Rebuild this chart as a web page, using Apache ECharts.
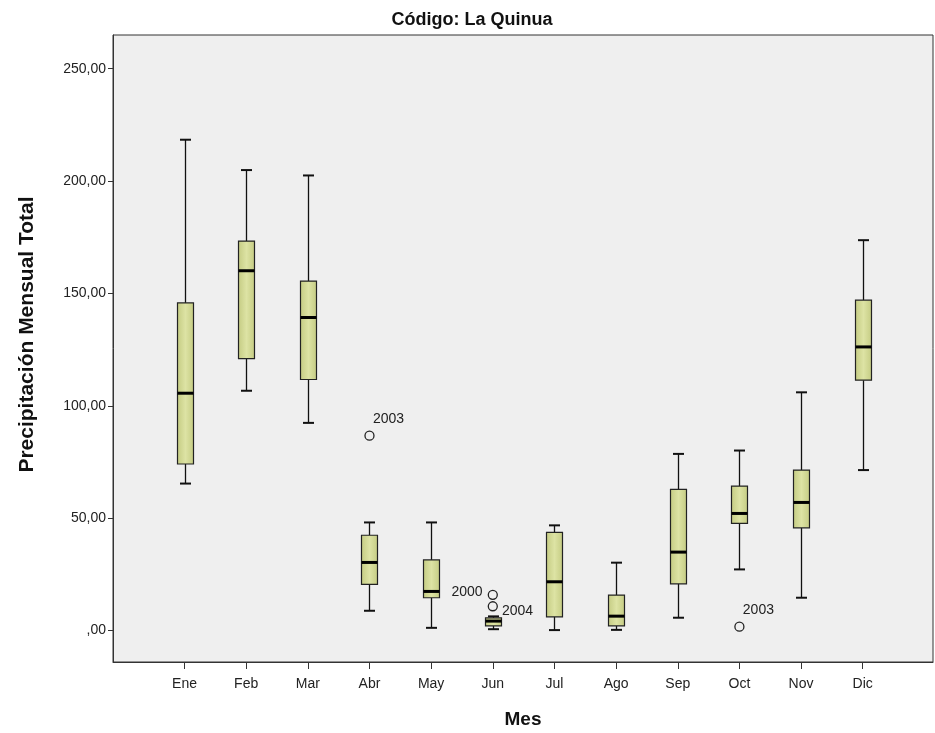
<!DOCTYPE html>
<html>
<head>
<meta charset="utf-8">
<script src="https://cdn.jsdelivr.net/npm/echarts@6/dist/echarts.min.js"></script>
<style>html,body{margin:0;padding:0;background:#fff;}#c{width:935px;height:733px;}</style>
</head>
<body>
<div id="c"></div>
<script>
var months = ['Ene','Feb','Mar','Abr','May','Jun','Jul','Ago','Sep','Oct','Nov','Dic'];
var mins    = [65.4, 106.7, 92.4,  8.8,  1.2, 0.6,  0.2, 0.3,  5.7, 27.2, 14.6,  71.4];
var q1s     = [74.1, 121.0, 111.7, 20.5, 14.6, 2.1,  6.1, 2.1, 20.8, 47.7, 45.7, 111.4];
var medians = [105.6, 160.1, 139.3, 30.3, 17.4, 4.2, 21.7, 6.4, 34.9, 52.1, 57.0, 126.2];
var q3s     = [145.8, 173.3, 155.5, 42.4, 31.4, 5.6, 43.7, 15.8, 62.8, 64.3, 71.4, 147.0];
var maxs    = [218.4, 204.9, 202.5, 48.1, 48.1, 6.3, 46.8, 30.2, 78.6, 80.1, 106.0, 173.7];
var outlierMonth = ['Abr','Jun','Jun','Oct'];
var outlierValue = [86.7, 15.9, 10.8, 1.7];
var outlierYear  = ['2003','2000','2004','2003'];
var yTicks = [0, 50, 100, 150, 200, 250];

var boxData = months.map(function(m, i){ return [i, mins[i], q1s[i], medians[i], q3s[i], maxs[i]]; });
var outData = outlierMonth.map(function(m, i){ return [months.indexOf(m), outlierValue[i], outlierYear[i]]; });
var labelPos = {
  '2003': {position:'top', distance:4, offset:[19,0]},
  '2000': {position:'left', distance:5, offset:[0,-3]},
  '2004': {position:'right', distance:4, offset:[0,5]}
};

var chart = echarts.init(document.getElementById('c'), null, {renderer:'canvas'});
var BOXW = 16, CAPW = 11;
var FONT = 'Liberation Sans, Arial, sans-serif';
var option = {
  animation: false,
  backgroundColor: '#ffffff',
  title: {
    text: 'Código: La Quinua', left: 467, top: 6, textAlign: 'center',
    textStyle: {fontFamily: FONT, fontWeight: 'bold', fontSize: 18, color: '#111'}
  },
  grid: {left: 113, right: 2, top: 35, bottom: 71, outerBoundsMode: 'none', containLabel: false,
    show: true, backgroundColor: '#efefef', borderColor: '#333', borderWidth: 1},
  xAxis: {
    type: 'value', min: -1.16, max: 12.14,
    name: 'Mes', nameLocation: 'middle', nameGap: 48,
    nameTextStyle: {fontFamily: FONT, fontWeight: 'bold', fontSize: 19, color: '#111'},
    axisLine: {show: true, onZero: false, lineStyle: {color: '#333', width: 1}},
    axisTick: {show: true, length: 7, lineStyle: {color: '#333'}, customValues: months.map(function(m,i){return i;})},
    axisLabel: {customValues: months.map(function(m,i){return i;}), formatter: function(v){ return months[Math.round(v)] || ''; },
      fontFamily: FONT, fontSize: 14, color: '#222', margin: 15},
    splitLine: {show: false}
  },
  yAxis: {
    type: 'value', min: -14, max: 265,
    name: 'Precipitación Mensual Total', nameLocation: 'middle', nameGap: 75, nameRotate: 90,
    nameTextStyle: {fontFamily: FONT, fontWeight: 'bold', fontSize: 21, color: '#111', padding: [0, 0, 0, 28]},
    axisLine: {show: true, onZero: false, lineStyle: {color: '#333', width: 1}},
    axisTick: {show: true, length: 5, lineStyle: {color: '#333'}, customValues: yTicks},
    axisLabel: {customValues: yTicks, formatter: function(v){ return v === 0 ? ',00' : v + ',00'; },
      fontFamily: FONT, fontSize: 14, color: '#222', margin: 7},
    splitLine: {show: false}
  },
  series: [
    {
      type: 'custom',
      data: boxData,
      encode: {x: 0, y: [1,2,3,4,5]},
      renderItem: function(params, api){
        var x = api.value(0);
        var pMin = api.coord([x, api.value(1)]);
        var pQ1 = api.coord([x, api.value(2)]);
        var pMed = api.coord([x, api.value(3)]);
        var pQ3 = api.coord([x, api.value(4)]);
        var pMax = api.coord([x, api.value(5)]);
        var cx = Math.round(pMin[0]) + 0.5;
        var stroke = {stroke: '#111', lineWidth: 1.3};
        return {
          type: 'group',
          children: [
            {type: 'line', shape: {x1: cx, y1: pMax[1], x2: cx, y2: pQ3[1]}, style: stroke},
            {type: 'line', shape: {x1: cx, y1: pQ1[1], x2: cx, y2: pMin[1]}, style: stroke},
            {type: 'line', shape: {x1: cx - CAPW/2, y1: pMax[1], x2: cx + CAPW/2, y2: pMax[1]}, style: {stroke: '#111', lineWidth: 2}},
            {type: 'line', shape: {x1: cx - CAPW/2, y1: pMin[1], x2: cx + CAPW/2, y2: pMin[1]}, style: {stroke: '#111', lineWidth: 2}},
            {type: 'rect', shape: {x: cx - BOXW/2, y: pQ3[1], width: BOXW, height: pQ1[1] - pQ3[1]},
              style: {fill: new echarts.graphic.LinearGradient(0,0,1,0,[{offset:0,color:'#c4cb82'},{offset:0.5,color:'#dde3a4'},{offset:1,color:'#c4cb82'}]), stroke: '#222', lineWidth: 1.2}},
            {type: 'line', shape: {x1: cx - BOXW/2, y1: pMed[1], x2: cx + BOXW/2, y2: pMed[1]}, style: {stroke: '#000', lineWidth: 3}}
          ]
        };
      },
      z: 3
    },
    {
      type: 'scatter',
      data: outData.map(function(d){
        return {value: [d[0], d[1]], name: d[2], label: labelPos[d[2]]};
      }),
      symbol: 'circle', symbolSize: 9,
      itemStyle: {color: 'rgba(0,0,0,0)', borderColor: '#222', borderWidth: 1.3, opacity: 1},
      label: {show: true, formatter: function(p){ return p.name; }, fontFamily: FONT, fontSize: 14, color: '#222'},
      z: 4
    }
  ]
};
chart.setOption(option);
</script>
</body>
</html>
